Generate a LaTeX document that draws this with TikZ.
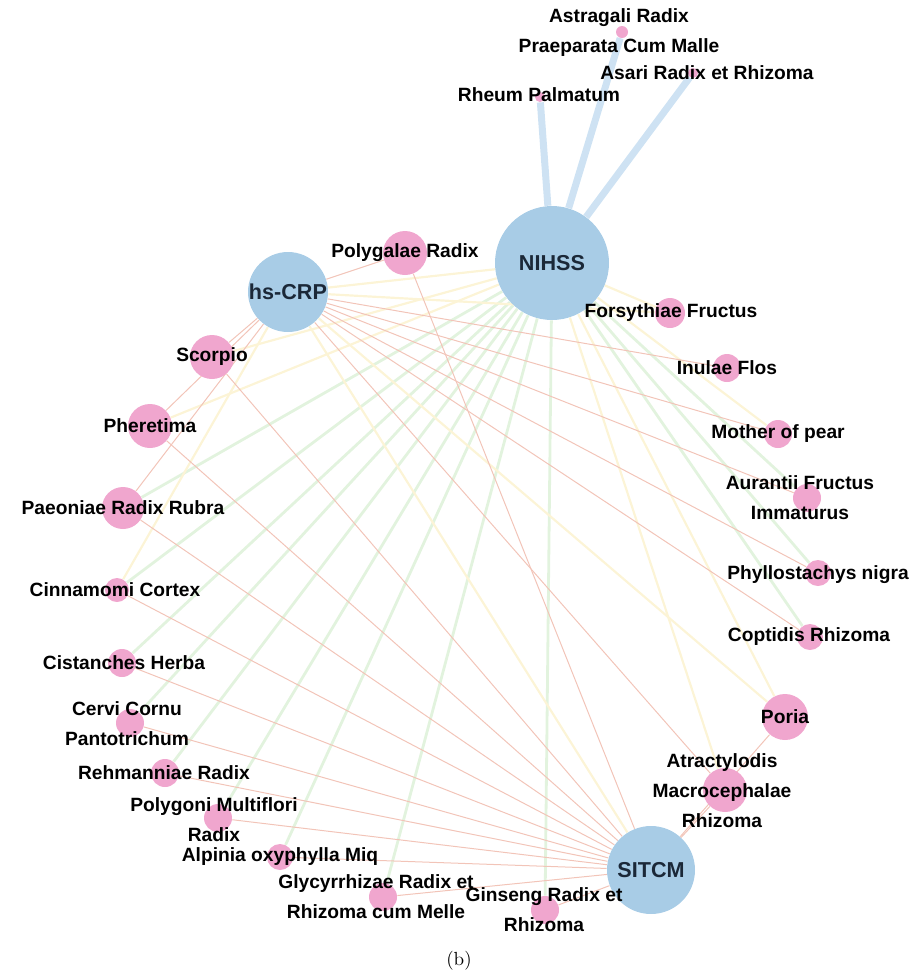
\documentclass[tikz,border=0pt]{standalone}
\usepackage{fontspec}
\newfontfamily\netfont{Liberation Sans}
\usetikzlibrary{backgrounds}

\definecolor{hubblue}{RGB}{168,204,230}
\definecolor{hubtext}{RGB}{27,40,56}
\definecolor{herbpink}{RGB}{240,166,206}
\definecolor{salmon}{RGB}{242,196,184}
\definecolor{paleyellow}{RGB}{252,244,214}
\definecolor{palegreen}{RGB}{226,243,222}
\definecolor{paleblue}{RGB}{206,226,243}

\tikzset{
    hub/.style={circle, fill=hubblue, minimum size=#1, inner sep=0pt,
        text=hubtext, font=\netfont\bfseries\fontsize{10.8}{12}\selectfont},
    herb/.style={circle, fill=herbpink, minimum size=#1, inner sep=0pt},
    tag/.style={align=center, inner sep=0pt,
        font=\netfont\bfseries\fontsize{9.6}{15}\selectfont},
    lowlink/.style={draw=salmon, line width=0.5pt},
    midlink/.style={draw=paleyellow, line width=1.1pt},
    highlink/.style={draw=palegreen, line width=1.4pt},
    toplink/.style={draw=paleblue, line width=3.5pt},
}

\begin{document}
\begin{tikzpicture}[x=0.5pt, y=-0.5pt]
    \useasboundingbox (0,0) rectangle (919,976);

    % outcome nodes
    \node[hub=57pt] (nihss) at (552,263) {NIHSS};
    \node[hub=40pt] (crp) at (288,292) {hs-CRP};
    \node[hub=44pt] (sitcm) at (651,870) {SITCM};

    % herbs: name/x/y/diameter
    \foreach \name/\x/\y/\d in {astra/622/32/6, asari/693/73/5,
        rheum/540/97/5, polyg/405/253/22, forsy/670/313/15,
        inula/727/368/14, mother/778/434/14, auran/807/498/14,
        phyll/818/573/13, copt/810/637/13, poria/785/717/23,
        atrac/725/790/22, ginse/545/910/14, glycy/383/897/14,
        alpin/280/857/13, polyf/218/818/14, rehma/165/773/14,
        cervi/130/723/14, cista/122/663/14, cinna/117/590/12,
        paeon/123/508/21, phere/150/426/22, scorp/212/357/22}
        \node[herb=\d pt] (\name) at (\x,\y) {};

    % herb names
    \foreach \name/\x/\y/\txt in {astra/619/33/{Astragali Radix\\Praeparata Cum Malle},
        asari/707/73/{Asari Radix et Rhizoma}, rheum/539/95/{Rheum Palmatum},
        polyg/405/253/{Polygalae Radix}, forsy/671/313/{Forsythiae Fructus},
        inula/727/368/{Inulae Flos}, mother/778/434/{Mother of pear},
        auran/800/498/{Aurantii Fructus\\Immaturus},
        phyll/818/575/{Phyllostachys nigra}, copt/809/637/{Coptidis Rhizoma},
        poria/785/717/{Poria}, atrac/722/791/{Atractylodis\\Macrocephalae\\Rhizoma},
        ginse/544/910/{Ginseng Radix et\\Rhizoma}, glycy/376/897/{Glycyrrhizae Radix et\\Rhizoma cum Melle},
        alpin/280/857/{Alpinia oxyphylla Miq}, polyf/214/820/{Polygoni Multiflori\\Radix},
        rehma/164/773/{Rehmanniae Radix}, cervi/127/724/{Cervi Cornu\\Pantotrichum},
        cista/124/663/{Cistanches Herba}, cinna/115/590/{Cinnamomi Cortex},
        paeon/123/508/{Paeoniae Radix Rubra}, phere/150/426/{Pheretima},
        scorp/212/357/{Scorpio}}
        \node[tag] (\name-t) at (\x,\y) {\txt};

    \node[font=\fontsize{9.5}{11}\selectfont] (caption) at (459,961) {(b)};

    \begin{pgfonlayer}{background}
        \foreach \a in {paeon, cinna, cista, cervi, rehma, polyf, alpin,
            glycy, ginse, auran, phyll, copt}
            \draw[highlink] (nihss) -- (\a);
        \foreach \a in {scorp, phere, crp, poria, atrac, mother, forsy}
            \draw[midlink] (nihss) -- (\a);
        \foreach \a in {poria, cinna, forsy, sitcm}
            \draw[midlink] (crp) -- (\a);
        \foreach \a in {scorp, phere, paeon, polyg, inula, mother, auran,
            phyll, copt, atrac}
            \draw[lowlink] (crp) -- (\a);
        \foreach \a in {scorp, phere, paeon, cinna, cista, cervi, rehma,
            polyf, alpin, glycy, ginse, atrac, poria, polyg}
            \draw[lowlink] (sitcm) -- (\a);
        \foreach \a in {rheum, astra, asari}
            \draw[toplink] (nihss) -- (\a);
    \end{pgfonlayer}
\end{tikzpicture}
\end{document}
